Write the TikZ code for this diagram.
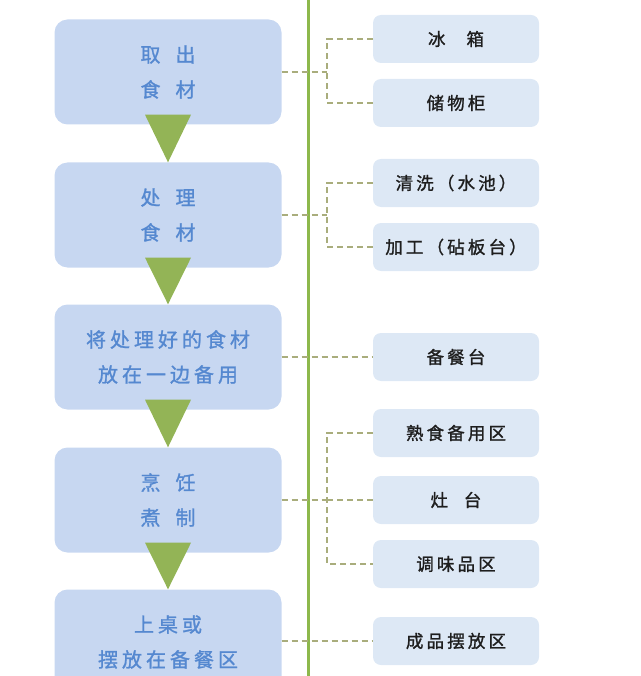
\documentclass[tikz,border=0pt]{standalone}
\usepackage{fontspec}
\newfontfamily\cjk[LetterSpace=20, FakeBold=1.2]{Noto Sans CJK SC}
\newfontfamily\cjkdark[LetterSpace=18, FakeBold=1.3]{Noto Sans CJK SC}
\definecolor{stagefill}{HTML}{C7D7F1}
\definecolor{stagetext}{HTML}{5588D0}
\definecolor{spotfill}{HTML}{DDE8F5}
\definecolor{spottext}{HTML}{1E1E1E}
\definecolor{spinecol}{HTML}{8DB84C}
\definecolor{arrowcol}{HTML}{93B456}
\definecolor{linkcol}{HTML}{A9AD7C}

\begin{document}
\begin{tikzpicture}[x=1pt, y=-1pt,
    stage/.style={rounded corners=13pt, fill=stagefill, inner sep=0pt,
        minimum width=227pt, minimum height=105pt, align=center,
        text=stagetext, font=\cjk\fontsize{20}{35}\selectfont},
    spot/.style={rounded corners=8pt, fill=spotfill, inner sep=0pt,
        minimum width=166pt, minimum height=48pt,
        text=spottext, font=\cjkdark\fontsize{17.5}{20}\selectfont},
    link/.style={draw=linkcol, line width=1.2pt, dash pattern=on 6pt off 4pt},
    spine/.style={draw=spinecol, line width=3pt},
    arrow/.style={fill=arrowcol}
]
    \useasboundingbox (0,0) rectangle (640,676);
    \node[stage] (l1) at (168,72) {取\hspace{0.75em}出\\食\hspace{0.75em}材};
    \node[stage] (l2) at (168,215) {处\hspace{0.75em}理\\食\hspace{0.75em}材};
    \node[stage] (l3) at (168,357) {将处理好的食材\\放在一边备用};
    \node[stage] (l4) at (168,500) {烹\hspace{0.75em}饪\\煮\hspace{0.75em}制};
    \node[stage] (l5) at (168,642) {上桌或\\摆放在备餐区};
    \node[spot] (r1) at (456,39) {冰\hspace{1.2em}箱};
    \node[spot] (r2) at (456,103) {储物柜};
    \node[spot] (r3) at (456,183) {清洗（水池）};
    \node[spot] (r4) at (456,247) {加工（砧板台）};
    \node[spot] (r5) at (456,357) {备餐台};
    \node[spot] (r6) at (456,433) {熟食备用区};
    \node[spot] (r7) at (456,500) {灶\hspace{0.9em}台};
    \node[spot] (r8) at (456,564) {调味品区};
    \node[spot] (r9) at (456,641) {成品摆放区};
    \coordinate (jx) at (327,0);
    \draw[spine] (308,0) -- (308,676);
    \draw[link] (l1.east) -- (jx |- l1.east);
    \draw[link] (r1.west) -| (jx |- r2.west) -- (r2.west);
    \draw[link] (l2.east) -- (jx |- l2.east);
    \draw[link] (r3.west) -| (jx |- r4.west) -- (r4.west);
    \draw[link] (l3.east) -- (r5.west);
    \draw[link] (l4.east) -- (jx |- l4.east);
    \draw[link] (r6.west) -| (jx |- r8.west) -- (r8.west);
    \draw[link] (jx |- r7.west) -- (r7.west);
    \draw[link] (l5.east |- r9.west) -- (r9.west);
    \foreach \a/\b in {l1/l2, l2/l3, l3/l4, l4/l5}
        \fill[arrow] ([xshift=-23pt, yshift=10pt]\a.south)
            -- ([xshift=23pt, yshift=10pt]\a.south) -- (\b.north) -- cycle;
\end{tikzpicture}
\end{document}
